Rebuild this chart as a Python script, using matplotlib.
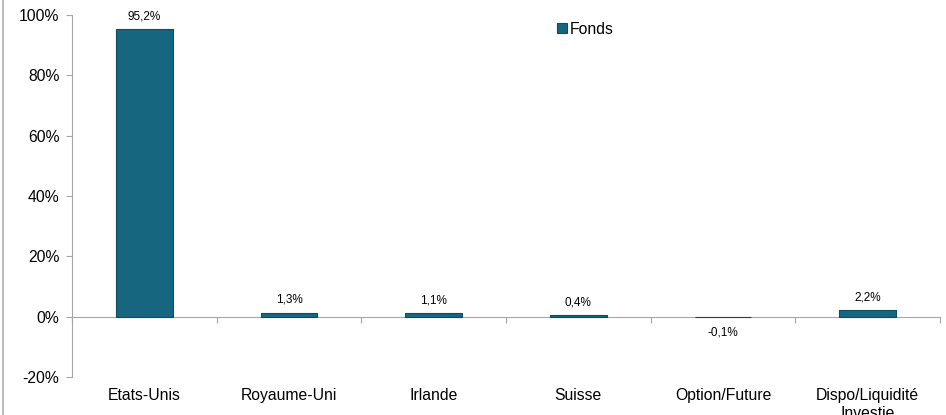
import numpy as np
import matplotlib.pyplot as plt
from matplotlib.lines import Line2D
from matplotlib.ticker import FuncFormatter

plt.rcParams['font.family'] = ['Liberation Sans', 'DejaVu Sans']

categories = ["Etats-Unis", "Royaume-Uni", "Irlande", "Suisse", "Option/Future", "Dispo/Liquidité\nInvestie"]
fonds = [95.2, 1.3, 1.1, 0.4, -0.1, 2.2]
series_name = "Fonds"

bar_color = "#17667f"
axis_color = "#a6a6a6"


def fmt_pct(v):
  return ("%.1f%%" % v).replace(".", ",")


fig = plt.figure(figsize=(9.46, 4.15), dpi=100)
ax = fig.add_axes([0.0761, 0.0916, 0.9176, 0.8723])

x = np.arange(len(categories))
bars = ax.bar(x, fonds, width=0.39, color=bar_color, edgecolor="#0f4a5e",
              linewidth=0.8, label=series_name, zorder=3)

ymin, ymax = -20, 100
ax.set_ylim(ymin, ymax)
ax.set_xlim(-0.5, len(categories) - 0.5)
ax.set_yticks(np.arange(ymin, ymax + 1, 20))
ax.yaxis.set_major_formatter(FuncFormatter(lambda v, p: "%d%%" % v))
ax.tick_params(axis="y", labelsize=11.3, length=4, color=axis_color, width=0.8, pad=5)

# category labels at the bottom, no tick marks
ax.set_xticks(x)
ax.set_xticklabels(categories, fontsize=11.3, linespacing=1.25)
ax.tick_params(axis="x", length=0, pad=8)

for s in ["top", "right", "bottom"]:
  ax.spines[s].set_visible(False)
ax.spines["left"].set_color(axis_color)
ax.spines["left"].set_linewidth(0.8)

# zero line with boundary ticks
zero_loc = (0 - ymin) / (ymax - ymin)
sec = ax.secondary_xaxis(zero_loc)
sec.set_xticks(np.arange(len(categories) + 1) - 0.5)
sec.set_xticklabels([])
sec.tick_params(axis="x", direction="out", length=4, color=axis_color, width=0.8)
sec.spines["bottom"].set_color(axis_color)
sec.spines["bottom"].set_linewidth(0.8)
sec.spines["top"].set_visible(False)

# value labels
for b, v in zip(bars, fonds):
  if v >= 0:
    ax.annotate(fmt_pct(v), (b.get_x() + b.get_width() / 2, v), xytext=(0, 5),
                textcoords="offset points", ha="center", va="bottom", fontsize=8.5)
  else:
    ax.annotate(fmt_pct(v), (b.get_x() + b.get_width() / 2, v), xytext=(0, -7),
                textcoords="offset points", ha="center", va="top", fontsize=8.5)

ax.legend(loc="upper left", bbox_to_anchor=(0.543, 1.02), frameon=False,
          handlelength=0.6, handleheight=0.6, handletextpad=0.2, fontsize=11.3)

# thin border on the left edge
fig.add_artist(Line2D([0.003, 0.003], [0, 1], color="#b0b0b0", linewidth=1.2))

fig.savefig("out.png", dpi=100)
